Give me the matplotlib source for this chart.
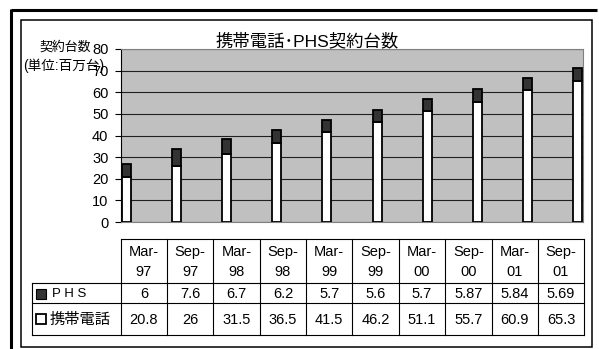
import matplotlib
matplotlib.use('Agg')
import matplotlib.pyplot as plt
from matplotlib.patches import Rectangle

plt.rcParams['font.family'] = ['Liberation Sans', 'Noto Sans CJK JP']

periods = ['Mar-97', 'Sep-97', 'Mar-98', 'Sep-98', 'Mar-99',
           'Sep-99', 'Mar-00', 'Sep-00', 'Mar-01', 'Sep-01']
phs = [6, 7.6, 6.7, 6.2, 5.7, 5.6, 5.7, 5.87, 5.84, 5.69]
mobile = [20.8, 26, 31.5, 36.5, 41.5, 46.2, 51.1, 55.7, 60.9, 65.3]
series_names = ['PHS', '携帯電話']
title = '携帯電話･PHS契約台数'

W, H = 599, 349
fig = plt.figure(figsize=(W / 100, H / 100), dpi=100)

# chart area (pixel box: x 121..583, y 49..222)
ax = fig.add_axes([121 / W, 1 - 222 / H, 462 / W, 173 / H])
ax.set_facecolor('#c0c0c0')
x = list(range(len(periods)))
bw = 0.18
ax.bar(x, mobile, bw, color='white', edgecolor='black', linewidth=1.3, zorder=3)
ax.bar(x, phs, bw, bottom=mobile, color='#333333', edgecolor='black', linewidth=1.3, zorder=3)
ax.set_xlim(-bw / 2 - 0.01, len(periods) - 1 + bw / 2 + 0.01)
ax.set_ylim(0, 80)
ax.set_yticks(range(0, 81, 10))
ax.yaxis.grid(True, color='#202020', linewidth=0.8)
ax.set_axisbelow(True)
ax.set_xticks([])
ax.tick_params(axis='y', direction='out', length=4, width=0.8, labelsize=10.5, pad=5)
for s in ['top', 'right', 'bottom']:
    ax.spines[s].set_color('#808080')
    ax.spines[s].set_linewidth(0.8)
ax.spines['left'].set_color('black')
ax.spines['left'].set_linewidth(0.8)

# overlay in pixel coordinates for frames, titles and the data table
ov = fig.add_axes([0, 0, 1, 1])
ov.set_xlim(0, W)
ov.set_ylim(H, 0)
ov.axis('off')
ov.patch.set_alpha(0)

# frames
ov.plot([11, 597], [10, 10], color='black', lw=2.2, solid_capstyle='butt')
ov.plot([11, 11], [9, H], color='black', lw=2.2, solid_capstyle='butt')
ov.add_patch(Rectangle((21, 20), 571, 327, fill=False, edgecolor='black', lw=1.1))

ov.text(307, 46, title, ha='center', va='baseline', fontsize=12.5)
ov.text(91, 51, '契約台数', ha='right', va='baseline', fontsize=9.3)
ov.text(23, 70, '(単位:百万台)', ha='left', va='baseline', fontsize=9.8)

# data table
c0, cw = 120.7, 46.35
n = len(periods)
top, r1, r2, bot = 239, 283, 303, 335
tlw = 0.8
ov.plot([c0, c0 + n * cw], [top, top], color='black', lw=tlw)
for yy in (r1, r2, bot):
    ov.plot([32, c0 + n * cw], [yy, yy], color='black', lw=tlw)
ov.plot([32, 32], [r1, bot], color='black', lw=tlw)
for i in range(n + 1):
    ov.plot([c0 + i * cw] * 2, [top, bot], color='black', lw=tlw)

for i, p in enumerate(periods):
    cx = c0 + (i + 0.5) * cw
    mon, yr = p.split('-')
    ov.text(cx, 252, mon + '-', ha='center', va='center', fontsize=10.5)
    ov.text(cx, 272, yr, ha='center', va='center', fontsize=10.5)
    ov.text(cx, 293.5, '%g' % phs[i], ha='center', va='center', fontsize=10.5)
    ov.text(cx, 319.5, '%g' % mobile[i], ha='center', va='center', fontsize=10.5)

# legend keys inside the table
ov.add_patch(Rectangle((36, 289), 10, 10, facecolor='#333333', edgecolor='black', lw=0.8))
ov.text(52, 294, ' '.join(series_names[0]), ha='left', va='center', fontsize=9.5)
ov.add_patch(Rectangle((36, 314), 10, 10, facecolor='white', edgecolor='black', lw=1.3))
ov.text(50, 319.5, series_names[1], ha='left', va='center', fontsize=11)

fig.savefig('out.png', dpi=100)
